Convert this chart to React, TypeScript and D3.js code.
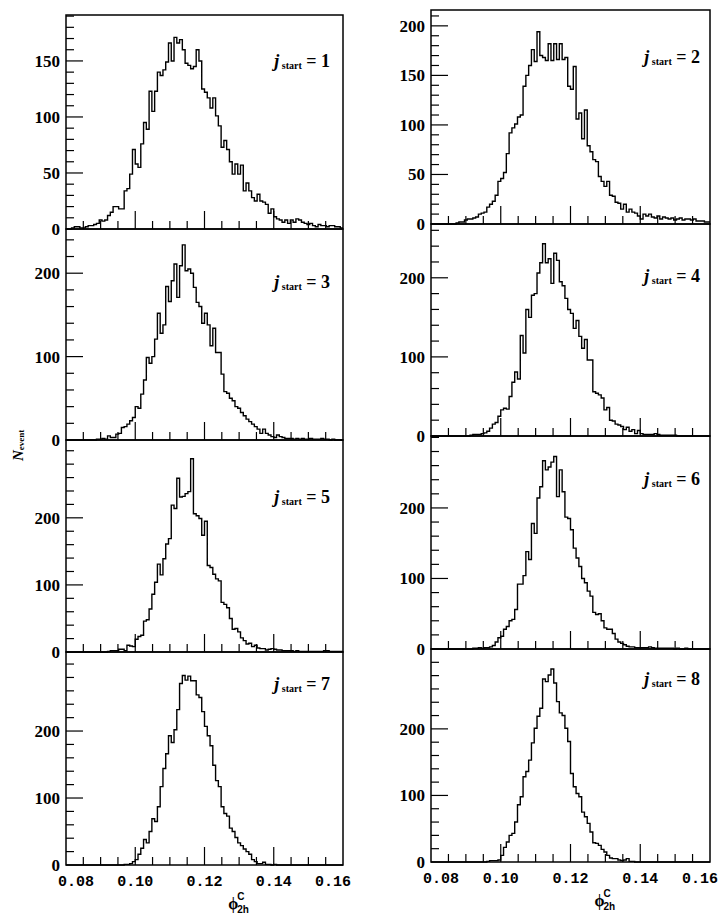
import React from 'react';
import * as d3 from 'd3';

// ---------------- data ----------------
const X_MIN = 0.08;
const X_MAX = 0.16;
const BIN_WIDTH = 0.0008; // 100 bins

const jStartValues = [1, 2, 3, 4, 5, 6, 7, 8];

const countsJ1 = [
  0, 0, 1, 2, 2, 1, 1, 2, 3, 3,
  4, 5, 8, 7, 8, 12, 15, 20, 20, 18,
  18, 34, 36, 49, 71, 58, 55, 76, 95, 89,
  123, 105, 123, 140, 137, 142, 149, 166, 150, 171,
  166, 169, 160, 148, 146, 143, 145, 160, 150, 125,
  122, 117, 108, 117, 101, 92, 73, 79, 71, 60,
  49, 58, 49, 57, 34, 41, 34, 28, 25, 31,
  25, 24, 22, 14, 18, 11, 9, 8, 6, 8,
  5, 8, 6, 9, 8, 6, 5, 4, 5, 3,
  2, 4, 3, 3, 2, 3, 3, 2, 2, 1,
];
const countsJ2 = [
  0, 0, 0, 0, 0, 0, 0, 0, 0, 1,
  2, 2, 4, 5, 5, 6, 7, 10, 11, 12,
  17, 20, 23, 29, 43, 46, 52, 71, 92, 97,
  101, 108, 110, 139, 150, 160, 176, 164, 194, 170,
  168, 165, 182, 165, 182, 166, 182, 166, 168, 139,
  136, 159, 106, 112, 86, 115, 79, 73, 65, 63,
  48, 43, 38, 43, 29, 28, 22, 21, 15, 20,
  12, 15, 12, 11, 8, 5, 10, 8, 10, 7,
  6, 8, 5, 7, 6, 5, 6, 4, 5, 6,
  4, 5, 5, 4, 5, 3, 3, 3, 2, 2,
];
const countsJ3 = [
  0, 0, 0, 0, 0, 0, 0, 0, 0, 0,
  0, 1, 1, 2, 1, 5, 3, 3, 7, 8,
  15, 16, 19, 23, 27, 40, 38, 55, 72, 99,
  92, 100, 121, 152, 128, 138, 184, 166, 191, 211,
  171, 209, 234, 203, 205, 200, 183, 165, 160, 140,
  152, 138, 113, 134, 105, 105, 79, 58, 56, 50,
  47, 40, 38, 33, 29, 25, 22, 19, 16, 13,
  8, 13, 8, 6, 4, 3, 6, 4, 3, 2,
  2, 2, 1, 2, 1, 2, 1, 1, 2, 1,
  1, 1, 2, 1, 1, 0, 1, 0, 0, 0,
];
const countsJ4 = [
  0, 0, 0, 0, 0, 0, 0, 0, 0, 0,
  0, 0, 0, 0, 1, 2, 2, 2, 3, 4,
  6, 10, 15, 17, 25, 33, 35, 34, 50, 68,
  81, 72, 127, 105, 160, 150, 178, 180, 206, 219,
  243, 219, 224, 193, 231, 222, 195, 190, 174, 160,
  155, 136, 146, 126, 111, 122, 96, 96, 56, 54,
  52, 48, 33, 36, 20, 19, 15, 14, 12, 8,
  11, 6, 8, 3, 7, 3, 2, 2, 2, 2,
  3, 2, 1, 1, 1, 1, 1, 1, 0, 0,
  0, 0, 0, 0, 0, 0, 0, 0, 0, 0,
];
const countsJ5 = [
  0, 0, 0, 0, 0, 0, 0, 0, 0, 0,
  0, 0, 0, 0, 0, 1, 2, 2, 2, 4,
  4, 2, 10, 9, 8, 19, 23, 25, 46, 48,
  64, 86, 104, 131, 115, 139, 161, 169, 219, 214,
  259, 231, 232, 236, 239, 288, 206, 203, 199, 174,
  195, 129, 126, 116, 109, 106, 74, 71, 66, 50,
  34, 35, 30, 21, 17, 12, 13, 8, 10, 6,
  5, 5, 3, 4, 5, 4, 3, 3, 2, 2,
  2, 2, 1, 2, 1, 1, 1, 1, 1, 1,
  1, 1, 1, 2, 2, 1, 1, 1, 1, 1,
];
const countsJ6 = [
  0, 0, 0, 0, 0, 0, 0, 0, 0, 0,
  0, 0, 0, 0, 0, 1, 1, 2, 1, 2,
  2, 3, 5, 10, 16, 18, 28, 32, 40, 42,
  56, 92, 92, 104, 138, 127, 178, 164, 214, 230,
  267, 254, 258, 265, 273, 216, 254, 223, 187, 185,
  169, 143, 129, 117, 100, 94, 82, 75, 52, 49,
  50, 40, 30, 28, 28, 22, 14, 10, 8, 6,
  4, 3, 3, 2, 2, 2, 2, 2, 3, 2,
  1, 1, 1, 1, 1, 1, 1, 0, 1, 0,
  0, 1, 0, 0, 0, 0, 0, 0, 0, 0,
];
const countsJ7 = [
  0, 0, 0, 0, 0, 0, 0, 0, 0, 0,
  0, 0, 0, 0, 0, 0, 0, 0, 0, 0,
  0, 1, 1, 2, 5, 8, 16, 25, 38, 33,
  50, 69, 65, 87, 117, 144, 166, 193, 183, 202,
  232, 271, 283, 276, 282, 275, 275, 254, 250, 229,
  207, 193, 178, 149, 126, 117, 87, 77, 73, 55,
  50, 41, 33, 29, 24, 20, 16, 8, 5, 2,
  2, 4, 1, 1, 0, 1, 0, 0, 0, 0,
  0, 0, 0, 0, 0, 0, 0, 0, 0, 0,
  0, 0, 0, 0, 0, 0, 0, 0, 0, 0,
];
const countsJ8 = [
  0, 0, 0, 0, 0, 0, 0, 0, 0, 0,
  0, 0, 0, 0, 0, 0, 0, 0, 0, 0,
  1, 2, 2, 2, 3, 10, 22, 30, 40, 43,
  60, 86, 98, 128, 136, 153, 179, 201, 219, 231,
  275, 271, 281, 290, 269, 241, 224, 220, 201, 181,
  133, 113, 103, 98, 75, 68, 58, 45, 29, 28,
  25, 19, 15, 10, 6, 5, 5, 3, 2, 3,
  5, 1, 1, 0, 0, 0, 0, 0, 0, 0,
  0, 0, 0, 0, 0, 0, 0, 0, 0, 0,
  0, 0, 0, 0, 0, 0, 0, 0, 0, 0,
];

const allCounts = [countsJ1, countsJ2, countsJ3, countsJ4, countsJ5, countsJ6, countsJ7, countsJ8];

// y-axis extents, labelled ticks and minor tick step per panel
const yDomainMax = [191, 216, 253, 268, 316, 302, 318, 320];
const yTickLabelsJ1 = [0, 50, 100, 150];
const yTickLabelsJ2 = [0, 50, 100, 150, 200];
const yTickLabelsOther = [0, 100, 200];
const yLabelled = [
  yTickLabelsJ1, yTickLabelsJ2, yTickLabelsOther, yTickLabelsOther,
  yTickLabelsOther, yTickLabelsOther, yTickLabelsOther, yTickLabelsOther,
];
const yMinorStep = [10, 10, 20, 20, 20, 20, 20, 20];

const xTickValues = [0.08, 0.1, 0.12, 0.14, 0.16];
const xTickLabels = ['0.08', '0.10', '0.12', '0.14', '0.16'];
const xMajorTicks = [0.1, 0.12, 0.14];
const X_MINOR_STEP = 0.005;

// ---------------- layout ----------------
const W = 722;
const H = 914;
const COLS = [
  { x0: 66, x1: 343, tops: [15, 229, 440, 652], bottom: 865 },
  { x0: 431, x1: 710, tops: [10, 224, 436, 649], bottom: 862 },
];
const labelBaselineDy = [52, 53, 59, 58, 63, 49, 38, 36];

const SERIF = '"Liberation Serif", "DejaVu Serif", serif';
const MONO = '"Liberation Mono", "DejaVu Sans Mono", monospace';
const SANS = '"Liberation Sans", Arial, sans-serif';

function Panel({ p }: { p: number }) {
  const row = Math.floor(p / 2);
  const col = p % 2;
  const c = COLS[col];
  const top = c.tops[row];
  const bottom = row < 3 ? c.tops[row + 1] : c.bottom;
  const x = d3.scaleLinear().domain([X_MIN, X_MAX]).range([c.x0, c.x1]);
  const y = d3.scaleLinear().domain([0, yDomainMax[p]]).range([bottom, top]);
  const counts = allCounts[p];

  const pts: [number, number][] = counts.map((v, i) => [X_MIN + i * BIN_WIDTH, v]);
  pts.push([X_MAX, counts[counts.length - 1]]);
  const line = d3
    .line<[number, number]>()
    .x((d) => x(d[0]))
    .y((d) => y(d[1]))
    .curve(d3.curveStepAfter);

  const yTicks = d3.range(0, yDomainMax[p] + 0.001, yMinorStep[p]);
  const xTicks = d3.range(1, 16).map((k) => +(X_MIN + k * X_MINOR_STEP).toFixed(4));
  const labelled = yLabelled[p];

  return (
    <g>
      <rect x={c.x0} y={top} width={c.x1 - c.x0} height={bottom - top} fill="none" stroke="#000" strokeWidth={1.5} />
      {yTicks.map((v) => {
        if (v === 0) return null;
        const major = labelled.includes(v);
        return (
          <line key={'yt' + v} x1={c.x0} x2={c.x0 + (major ? 17 : 8)} y1={y(v)} y2={y(v)} stroke="#000" strokeWidth={1.2} />
        );
      })}
      {labelled.map((v) => (
        <text
          key={'yl' + v}
          x={c.x0 - 6}
          y={y(v)}
          dy="0.35em"
          textAnchor="end"
          fontFamily={SERIF}
          fontWeight="bold"
          fontSize={17}
        >
          {v}
        </text>
      ))}
      {xTicks.map((v) => {
        const major = xMajorTicks.some((m) => Math.abs(m - v) < 1e-6);
        return (
          <line key={'xt' + v} x1={x(v)} x2={x(v)} y1={bottom} y2={bottom - (major ? 18 : 8)} stroke="#000" strokeWidth={1.2} />
        );
      })}
      <path d={line(pts) || ''} fill="none" stroke="#000" strokeWidth={1.4} />
      <text x={c.x1 - (col === 0 ? 13 : 10)} y={top + labelBaselineDy[p]} textAnchor="end" fontFamily={SERIF} fontWeight="bold" fontSize={18}>
        <tspan fontStyle="italic">j</tspan>
        <tspan fontSize={10} dy={2}> start</tspan>
        <tspan dy={-2}> = {jStartValues[p]}</tspan>
      </text>
      {row === 3 &&
        xTickValues.map((v, i) => {
          const px = Math.max(c.x0 + 10, Math.min(c.x1 - 10, x(v)));
          return (
            <text key={'xl' + i} x={px} y={bottom + 21} textAnchor="middle" fontFamily={MONO} fontWeight="bold" fontSize={15}>
              {xTickLabels[i]}
            </text>
          );
        })}
      {row === 3 && (
        <g>
          <text x={x(0.128) - 4} y={bottom + 44} textAnchor="start" fontFamily={SERIF} fontWeight="bold" fontSize={16}>
            ϕ
          </text>
          <text x={x(0.128) + 5} y={bottom + 35} fontFamily={SANS} fontWeight="bold" fontSize={10}>
            C
          </text>
          <text x={x(0.128) + 5} y={bottom + 48} fontFamily={SANS} fontWeight="bold" fontSize={10}>
            2h
          </text>
        </g>
      )}
    </g>
  );
}

export default function App() {
  return (
    <svg width={W} height={H} style={{ position: 'absolute', left: 0, top: 0, background: '#fff' }}>
      <rect x={0} y={0} width={W} height={H} fill="#fff" />
      {jStartValues.map((_, p) => (
        <Panel key={p} p={p} />
      ))}
      <text transform="translate(23,461) rotate(-90)" fontFamily={SERIF} fontWeight="bold" fontSize={15}>
        <tspan fontStyle="italic">N</tspan>
        <tspan fontSize={9} dy={1}>event</tspan>
      </text>
    </svg>
  );
}
